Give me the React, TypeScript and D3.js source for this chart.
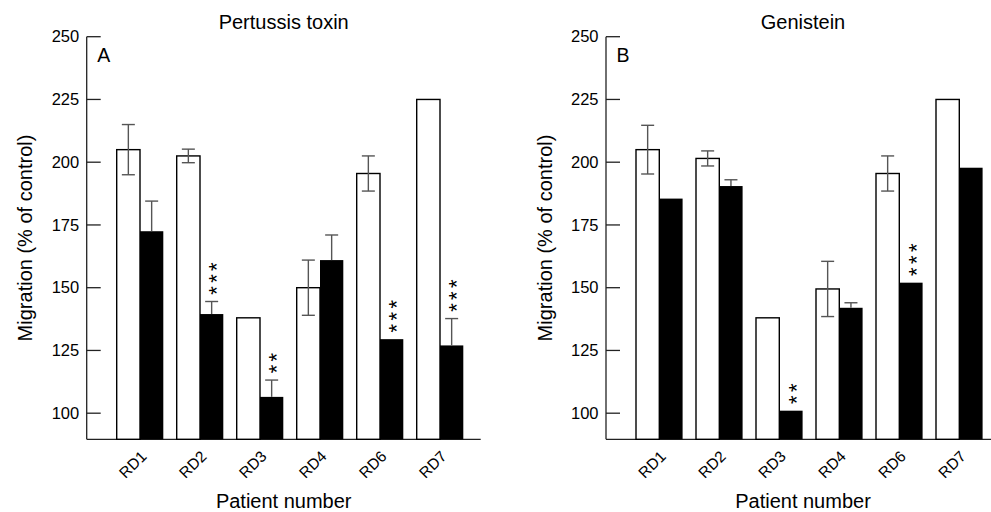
import React, { useEffect, useRef } from "react";
import * as d3 from "d3";

// Patient categories (x axis)
const patients = ["RD1", "RD2", "RD3", "RD4", "RD6", "RD7"];
const yTicks = [100, 125, 150, 175, 200, 225, 250];

// Panel A - Pertussis toxin
const ptxControl = [205, 202.5, 138, 150, 195.5, 225];
const ptxControlErr = [10, 2.7, 0, 11, 7, 0];
const ptxTreated = [172.5, 139.5, 106.5, 161, 129.5, 127];
const ptxTreatedErr = [12, 5, 6.7, 10, 0, 10.7];
const ptxStars = [0, 3, 2, 0, 3, 3];

// Panel B - Genistein
const genControl = [205, 201.5, 138, 149.5, 195.5, 225];
const genControlErr = [9.7, 3, 0, 11, 7, 0];
const genTreated = [185.5, 190.5, 101, 142, 152, 197.8];
const genTreatedErr = [0, 2.5, 0, 2, 0, 0];
const genStars = [0, 0, 2, 0, 3, 0];

const panels = [
  { letter: "A", title: "Pertussis toxin", left: 86.7, control: ptxControl, controlErr: ptxControlErr, treated: ptxTreated, treatedErr: ptxTreatedErr, stars: ptxStars },
  { letter: "B", title: "Genistein", left: 606, control: genControl, controlErr: genControlErr, treated: genTreated, treatedErr: genTreatedErr, stars: genStars },
];

const FONT = "'Liberation Sans', Arial, Helvetica, sans-serif";

export default function App() {
  const ref = useRef<SVGSVGElement>(null);

  useEffect(() => {
    const svg = d3.select(ref.current);
    svg.selectAll("*").remove();

    const top = 36.7, bottom = 439.3, axisLen = 394;
    // value at the x axis line is ~89.6
    const y = d3.scaleLinear().domain([89.6, 250]).range([bottom, top]);

    panels.forEach((p) => {
      const g = svg.append("g").style("font-family", FONT);
      const x = d3.scalePoint<string>().domain(patients).range([p.left + 53.3, p.left + 353.3]);
      const sub = d3.scaleBand<string>().domain(["c", "t"]).range([-23.3, 23.3]);
      const bw = sub.bandwidth();

      // title
      g.append("text")
        .attr("x", p.left + axisLen / 2)
        .attr("y", 28.5)
        .attr("text-anchor", "middle")
        .style("font-size", "20px")
        .text(p.title);

      // panel letter
      g.append("text")
        .attr("x", p.left + 10.5)
        .attr("y", 62.3)
        .style("font-size", "19.5px")
        .text(p.letter);

      // y axis
      g.append("line")
        .attr("x1", p.left).attr("x2", p.left)
        .attr("y1", top).attr("y2", bottom)
        .attr("stroke", "#222").attr("stroke-width", 1.3);
      g.selectAll(".ytick")
        .data(yTicks)
        .join("line")
        .attr("x1", p.left).attr("x2", p.left + 14)
        .attr("y1", (d) => y(d)).attr("y2", (d) => y(d))
        .attr("stroke", "#222").attr("stroke-width", 1.3);
      g.selectAll(".ylab")
        .data(yTicks)
        .join("text")
        .attr("x", p.left - 7.5)
        .attr("y", (d) => y(d))
        .attr("dy", "0.35em")
        .attr("text-anchor", "end")
        .style("font-size", "16.5px")
        .text((d) => d);

      // x axis
      g.append("line")
        .attr("x1", p.left).attr("x2", p.left + axisLen)
        .attr("y1", bottom).attr("y2", bottom)
        .attr("stroke", "#222").attr("stroke-width", 1.3);

      // bars
      const groups = g.selectAll(".grp")
        .data(patients)
        .join("g")
        .attr("transform", (d) => `translate(${x(d)},0)`);

      groups.append("rect")
        .attr("x", sub("c") as number)
        .attr("y", (d, i) => y(p.control[i]))
        .attr("width", bw)
        .attr("height", (d, i) => bottom - y(p.control[i]))
        .attr("fill", "#fff")
        .attr("stroke", "#000")
        .attr("stroke-width", 1.4);

      groups.append("rect")
        .attr("x", sub("t") as number)
        .attr("y", (d, i) => y(p.treated[i]))
        .attr("width", bw)
        .attr("height", (d, i) => bottom - y(p.treated[i]))
        .attr("fill", "#000");

      // error bars
      const cx = (s: string) => (sub(s) as number) + bw / 2;
      groups.each(function (d, i) {
        const gg = d3.select(this);
        const ec = p.controlErr[i];
        if (ec > 0) {
          const v = p.control[i];
          gg.append("line").attr("x1", cx("c")).attr("x2", cx("c"))
            .attr("y1", y(v + ec)).attr("y2", y(v - ec))
            .attr("stroke", "#555").attr("stroke-width", 1.4);
          [v + ec, v - ec].forEach((e) => {
            gg.append("line").attr("x1", cx("c") - 6.5).attr("x2", cx("c") + 6.5)
              .attr("y1", y(e)).attr("y2", y(e))
              .attr("stroke", "#555").attr("stroke-width", 1.4);
          });
        }
        const et = p.treatedErr[i];
        const vt = p.treated[i];
        if (et > 0) {
          gg.append("line").attr("x1", cx("t")).attr("x2", cx("t"))
            .attr("y1", y(vt + et)).attr("y2", y(vt))
            .attr("stroke", "#555").attr("stroke-width", 1.4);
          gg.append("line").attr("x1", cx("t") - 6.5).attr("x2", cx("t") + 6.5)
            .attr("y1", y(vt + et)).attr("y2", y(vt + et))
            .attr("stroke", "#555").attr("stroke-width", 1.4);
        }
        // significance stars, written vertically
        if (p.stars[i] > 0) {
          const base = y(vt + et) - 11;
          gg.append("text")
            .attr("transform", `translate(${cx("t") + 12.6},${base + 4.3}) rotate(-90)`)
            .style("font-size", "22px")
            .style("letter-spacing", "3.4px")
            .text("*".repeat(p.stars[i]));
        }
      });

      // category labels
      g.selectAll(".xlab")
        .data(patients)
        .join("text")
        .attr("transform", (d) => `translate(${(x(d) as number) + 7.5},${bottom + 18}) rotate(-45)`)
        .attr("text-anchor", "end")
        .style("font-size", "15.5px")
        .text((d) => d);

      // axis titles
      g.append("text")
        .attr("x", p.left + axisLen / 2)
        .attr("y", 508)
        .attr("text-anchor", "middle")
        .style("font-size", "20px")
        .text("Patient number");

      g.append("text")
        .attr("transform", `translate(${p.left - 54.4},${(top + bottom) / 2}) rotate(-90)`)
        .attr("text-anchor", "middle")
        .style("font-size", "20px")
        .text("Migration (% of control)");
    });
  }, []);

  return (
    <svg
      ref={ref}
      width={991}
      height={512}
      style={{ position: "absolute", left: 0, top: 0, background: "#fff" }}
    />
  );
}
